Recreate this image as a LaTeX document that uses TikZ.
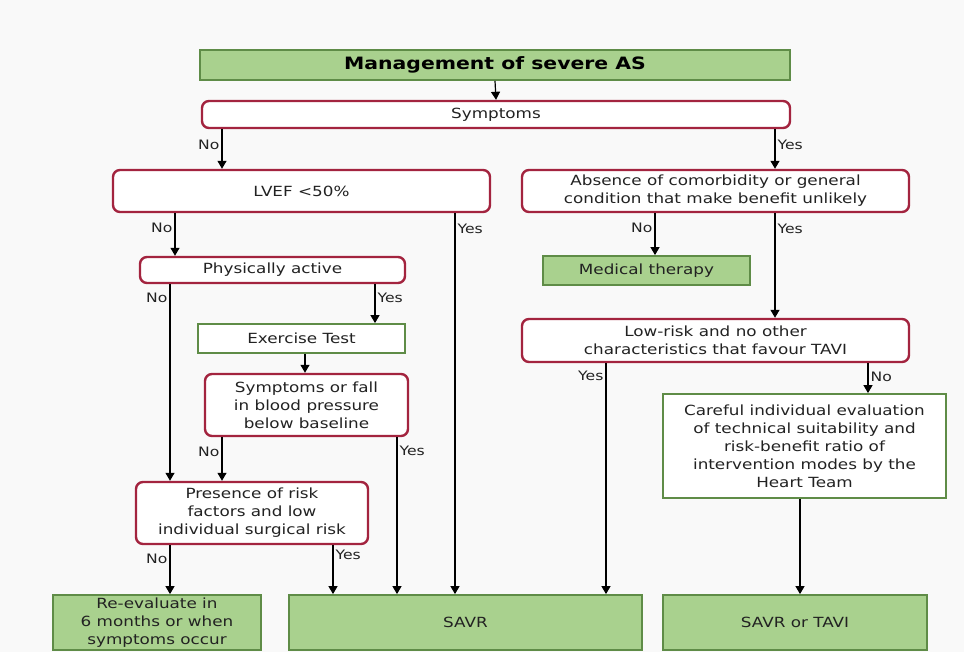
\documentclass[tikz,border=0pt]{standalone}
\usepackage{fontspec}
\setmainfont[FakeStretch=1.2]{DejaVu Sans}
\usepackage{tikz}
\usetikzlibrary{arrows.meta,positioning}
\definecolor{askred}{HTML}{A3243F}
\definecolor{actgreen}{HTML}{A9D18E}
\definecolor{actborder}{HTML}{5F8C47}
\definecolor{bggray}{HTML}{F9F9F9}
\definecolor{txtgray}{HTML}{222222}

\begin{document}
\begin{tikzpicture}[
  x=1pt,y=-1pt,
  box/.style={inner sep=0pt,align=center,text=txtgray,
    font=\fontsize{14}{18}\selectfont},
  decision/.style={box,draw=askred,fill=white,line width=2.4pt,rounded corners=7pt},
  action/.style={box,draw=actborder,fill=actgreen,line width=1.8pt},
  testbox/.style={box,draw=actborder,fill=white,line width=1.8pt},
  arr/.style={-{Triangle[length=8pt,width=9pt]},line width=1.2pt,draw=black},
  lab/.style={font=\fontsize{13}{15}\selectfont,text=txtgray,inner sep=2pt}
]
\fill[bggray] (0,0) rectangle (964,652);
\useasboundingbox (0,0) rectangle (964,652);

% top of the chart
\node[action,minimum width=590pt,minimum height=30pt,
  font=\fontsize{17}{20}\selectfont\bfseries,text=black] (title) at (495,65)
  {Management of severe AS};
\node[decision,minimum width=588pt,minimum height=27pt] (symp) at (496,114.5) {Symptoms};
\draw[arr] (title.south) -- (symp.north);

% no symptoms
\node[decision,minimum width=377pt,minimum height=42pt] (lvef) at (301.5,191) {LVEF <50\%};
\node[decision,minimum width=265pt,minimum height=26pt] (phys) at (272.5,270) {Physically active};
\node[testbox,minimum width=207pt,minimum height=29pt] (exer) at (301.5,338.5) {Exercise Test};
\node[decision,minimum width=203pt,minimum height=62pt] (fall) at (306.5,405)
  {Symptoms or fall\\in blood pressure\\below baseline};
\node[decision,minimum width=232pt,minimum height=62pt] (risk) at (252,513)
  {Presence of risk\\factors and low\\individual surgical risk};

% symptoms
\node[decision,minimum width=387pt,minimum height=42pt] (absence) at (715.5,191)
  {Absence of comorbidity or general\\condition that make benefit unlikely};
\node[action,minimum width=207pt,minimum height=29pt] (medical) at (646.5,270.5) {Medical therapy};
\node[decision,minimum width=387pt,minimum height=43pt] (lowrisk) at (715.5,340.5)
  {Low-risk and no other\\characteristics that favour TAVI};
\node[testbox,minimum width=283pt,minimum height=104pt] (careful) at (804.5,446)
  {Careful individual evaluation\\of technical suitability and\\risk-benefit ratio of\\intervention modes by the\\Heart Team};

% outcomes
\node[action,minimum width=208pt,minimum height=55pt] (reeval) at (157,622.5)
  {Re-evaluate in\\6 months or when\\symptoms occur};
\node[action,minimum width=353pt,minimum height=55pt] (savr) at (465.5,622.5) {SAVR};
\node[action,minimum width=264pt,minimum height=55pt] (both) at (795,622.5) {SAVR or TAVI};

% connectors
\draw[arr] (symp.south -| 222,0) -- node[lab,left,pos=0.4]{No} (lvef.north -| 222,0);
\draw[arr] (symp.south -| 775,0) -- node[lab,right,pos=0.4]{Yes} (absence.north -| 775,0);
\draw[arr] (lvef.south -| 175,0) -- node[lab,left,pos=0.35]{No} (phys.north -| 175,0);
\draw[arr] (lvef.south -| 455,0) -- node[lab,right,pos=0.04]{Yes} (savr.north -| 455,0);
\draw[arr] (phys.south -| 170,0) -- node[lab,left,pos=0.07]{No} (risk.north -| 170,0);
\draw[arr] (phys.south -| 375,0) -- node[lab,right,pos=0.34]{Yes} (exer.north -| 375,0);
\draw[arr] (exer.south -| 305,0) -- (fall.north -| 305,0);
\draw[arr] (fall.south -| 222,0) -- node[lab,left,pos=0.33]{No} (risk.north -| 222,0);
\draw[arr] (fall.south -| 397,0) -- node[lab,right,pos=0.09]{Yes} (savr.north -| 397,0);
\draw[arr] (risk.south -| 170,0) -- node[lab,left,pos=0.27]{No} (reeval.north -| 170,0);
\draw[arr] (risk.south -| 333,0) -- node[lab,right,pos=0.2]{Yes} (savr.north -| 333,0);
\draw[arr] (absence.south -| 655,0) -- node[lab,left,pos=0.36]{No} (medical.north -| 655,0);
\draw[arr] (absence.south -| 775,0) -- node[lab,right,pos=0.15]{Yes} (lowrisk.north -| 775,0);
\draw[arr] (lowrisk.south -| 606,0) -- node[lab,left,pos=0.056]{Yes} (savr.north -| 606,0);
\draw[arr] (lowrisk.south -| 868,0) -- node[lab,right,pos=0.45]{No} (careful.north -| 868,0);
\draw[arr] (careful.south -| 800,0) -- (both.north -| 800,0);
\end{tikzpicture}
\end{document}
